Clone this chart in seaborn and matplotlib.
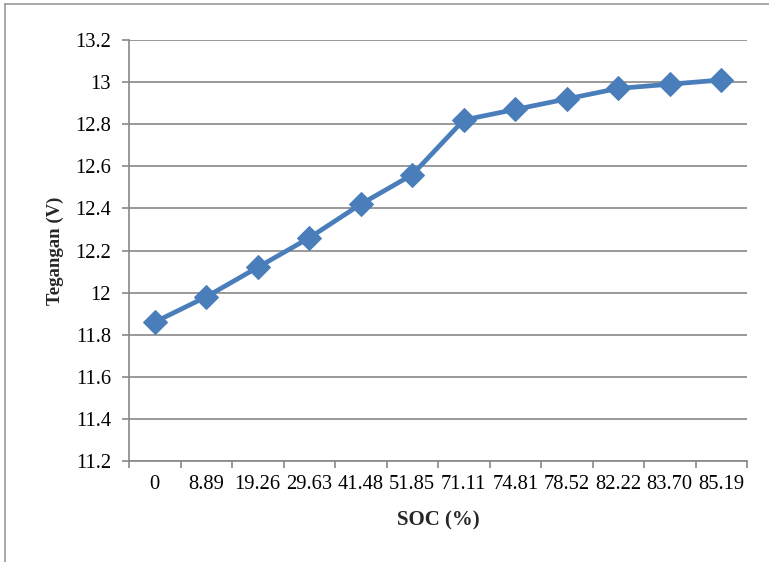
import numpy as np
import pandas as pd
import matplotlib
matplotlib.use("Agg")
import matplotlib.pyplot as plt
from matplotlib.lines import Line2D
from matplotlib.ticker import FixedLocator
import seaborn as sns

soc_labels = ["0", "8.89", "19.26", "29.63", "41.48", "51.85",
              "71.11", "74.81", "78.52", "82.22", "83.70", "85.19"]
voltage = [11.86, 11.98, 12.12, 12.26, 12.42, 12.56,
           12.82, 12.87, 12.92, 12.97, 12.99, 13.01]
y_ticks = [11.2, 11.4, 11.6, 11.8, 12.0, 12.2, 12.4, 12.6, 12.8, 13.0, 13.2]

df = pd.DataFrame({"pos": np.arange(len(soc_labels)), "V": voltage})

sns.set_theme(style="white")
plt.rcParams["font.family"] = ["Liberation Serif", "DejaVu Serif"]

grey = "#878787"
blue = "#4a7ebb"

fig = plt.figure(figsize=(7.69, 5.62), dpi=100)
ax = fig.add_axes([129 / 769, 1 - 461 / 562, (747 - 129) / 769, (461 - 40) / 562])

sns.lineplot(data=df, x="pos", y="V", ax=ax, color=blue, linewidth=3.4,
             marker="D", markersize=12, markeredgecolor=blue,
             markerfacecolor=blue, zorder=3)

ax.set_xlim(-0.5, len(soc_labels) - 0.5)
ax.set_ylim(y_ticks[0], y_ticks[-1])
ax.set_yticks(y_ticks)
ax.set_yticklabels([f"{v:g}" for v in y_ticks])
ax.grid(axis="y", color=grey, linewidth=1.2)
ax.set_axisbelow(True)

ax.set_xticks(np.arange(len(soc_labels)))
ax.set_xticklabels(soc_labels)
ax.xaxis.set_minor_locator(FixedLocator(np.arange(-0.5, len(soc_labels), 1.0)))
ax.tick_params(axis="x", which="major", length=0, pad=10, labelsize=14.8, colors="black")
ax.tick_params(axis="x", which="minor", length=5, width=1.2, color=grey, direction="out", bottom=True)
ax.tick_params(axis="y", which="major", length=5, width=1.2, color=grey, direction="out",
               left=True, pad=8, labelsize=14.8, colors="black")

for side in ["top", "right"]:
    ax.spines[side].set_visible(False)
for side in ["left", "bottom"]:
    ax.spines[side].set_color(grey)
    ax.spines[side].set_linewidth(1.2)

ax.set_xlabel("SOC (%)", fontsize=15, fontweight="bold", labelpad=12)
ax.set_ylabel("Tegangan (V)", fontsize=13.5, fontweight="bold", labelpad=8)

# chart frame edges
fig.add_artist(Line2D([5 / 769, 5 / 769], [0, 1 - 4 / 562], transform=fig.transFigure,
                      color="#999999", linewidth=1.2))
fig.add_artist(Line2D([5 / 769, 1], [1 - 4 / 562, 1 - 4 / 562], transform=fig.transFigure,
                      color="#999999", linewidth=1.2))

fig.savefig("out.png", dpi=100, facecolor="white")
